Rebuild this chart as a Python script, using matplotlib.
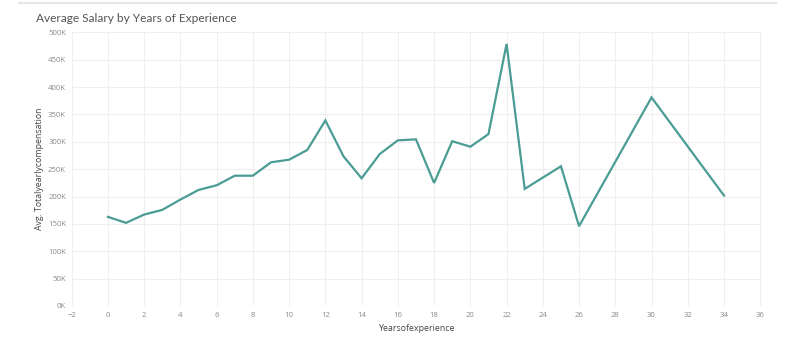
import matplotlib
matplotlib.use('Agg')
import matplotlib.pyplot as plt
from matplotlib.ticker import FuncFormatter, MultipleLocator

plt.rcParams['font.family'] = ['Open Sans', 'DejaVu Sans']

# years of experience and average total yearly compensation
years = [0, 1, 2, 3, 4, 5, 6, 7, 8, 9, 10, 11, 12, 13, 14, 15, 16, 17, 18, 19,
         20, 21, 22, 23, 25, 26, 30, 34]
avg_comp = [162800, 151900, 167000, 175600, 194400, 212000, 220500, 238000, 238000,
            262500, 267300, 285000, 339000, 273400, 233300, 277600, 302600, 304400,
            224800, 301000, 291000, 314000, 478700, 213900, 255200, 145800, 381000,
            201700]

title = 'Average Salary by Years of Experience'
xlabel = 'Yearsofexperience'
ylabel = 'Avg. Totalyearlycompensation'

fig = plt.figure(figsize=(8, 3.38), dpi=100)
ax = fig.add_axes([0.0896, 0.0947, 0.863, 0.813])

ax.plot(years, avg_comp, color='#4a9c94', lw=1.6, solid_joinstyle='miter')

ax.set_xlim(-2, 36.1)
ax.set_ylim(0, 502000)
ax.xaxis.set_major_locator(MultipleLocator(2))
ax.yaxis.set_major_locator(MultipleLocator(50000))
ax.yaxis.set_major_formatter(FuncFormatter(lambda v, p: '%dK' % round(v / 1000)))

ax.grid(True, color='#efefef', lw=0.8)
ax.set_axisbelow(True)
for s in ax.spines.values():
    s.set_visible(False)
ax.tick_params(length=0, labelsize=5.6, colors='#8a8a8a', pad=4)

ax.set_xlabel(xlabel, fontsize=6.3, color='#444444', labelpad=4)
ax.set_ylabel(ylabel, fontsize=6.3, color='#444444')
ax.yaxis.set_label_coords(-0.04, 0.5)

fig.text(0.045, 0.945, title, fontsize=8.6, color='#555555', va='center', ha='left',
         family=['Lato', 'DejaVu Sans'])
fig.add_artist(plt.Line2D([0.024, 0.97], [0.99, 0.99], color='#e6e6e6', lw=1.5,
                          transform=fig.transFigure))

fig.savefig('out.png', dpi=100)
